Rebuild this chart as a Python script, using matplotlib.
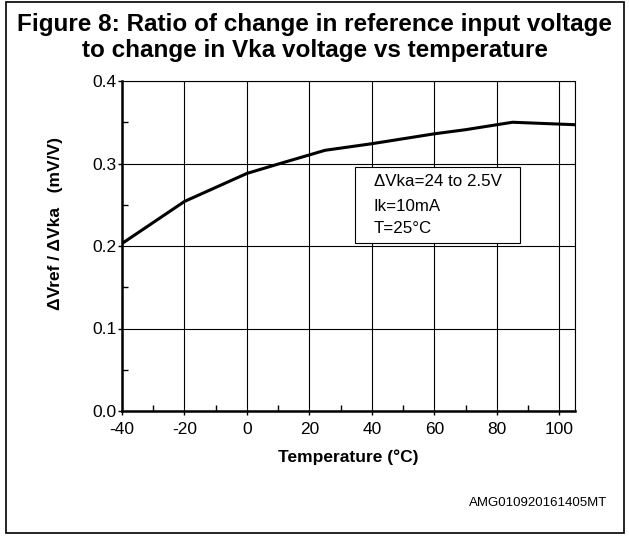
import matplotlib
matplotlib.use("Agg")
import matplotlib.pyplot as plt
from matplotlib.patches import Rectangle
from matplotlib.ticker import MultipleLocator

plt.rcParams['font.family'] = ['Liberation Sans', 'DejaVu Sans']

temperature = [-40, -20, 0, 10.6, 25, 40, 60, 70, 85, 105]
ratio = [0.203, 0.254, 0.288, 0.300, 0.316, 0.324, 0.336, 0.341, 0.350, 0.347]
xticks = [-40, -20, 0, 20, 40, 60, 80, 100]
yticks = [0.0, 0.1, 0.2, 0.3, 0.4]
note_lines = ["ΔVka=24 to 2.5V", "Ik=10mA", "T=25°C"]
note_y = [0.2776, 0.2473, 0.2218]

W, H = 629, 538
fig = plt.figure(figsize=(W / 100, H / 100), dpi=100)

# outer frame
fig.patches.append(Rectangle((6 / W, 5 / H), 618 / W, 531 / H, transform=fig.transFigure,
                             fill=False, edgecolor='black', linewidth=1.2))

fig.text(0.5, 1 - 31 / H, "Figure 8: Ratio of change in reference input voltage",
         ha='center', va='baseline', fontsize=17.5, fontweight='bold')
fig.text(0.5, 1 - 57 / H, "to change in Vka voltage vs temperature",
         ha='center', va='baseline', fontsize=17.5, fontweight='bold')

ax = fig.add_axes([122 / W, 1 - 411 / H, (575 - 122) / W, (411 - 81) / H])
ax.plot(temperature, ratio, color='black', linewidth=2.2, zorder=3)
ax.set_xlim(-40, 105)
ax.set_ylim(0.0, 0.4)
ax.set_xticks(xticks)
ax.set_yticks(yticks)
ax.set_xticklabels([str(t) for t in xticks])
ax.set_yticklabels([f"{v:.1f}" for v in yticks])
ax.xaxis.set_minor_locator(MultipleLocator(10))
ax.yaxis.set_minor_locator(MultipleLocator(0.05))
ax.tick_params(which='major', direction='out', length=3, width=1, labelsize=12.5, pad=1,
               colors='black')
ax.tick_params(axis='x', which='major', pad=5)
ax.tick_params(which='minor', direction='in', length=4, width=1)
ax.grid(True, which='major', color='black', linewidth=0.8)
ax.axvline(105, color='black', linewidth=0.8)
for s in ['left', 'bottom']:
    ax.spines[s].set_linewidth(1.8)
for s in ['top', 'right']:
    ax.spines[s].set_linewidth(0.8)

ax.set_xlabel("Temperature (°C)", fontsize=12.5, fontweight='bold', labelpad=9)
fig.text(56 / W, 1 - 224 / H, "ΔVref / ΔVka   (mV/V)", rotation=90, ha='center', va='center',
         fontsize=12.5, fontweight='bold')

# annotation box
ax.add_patch(Rectangle((34.6, 0.204), 52.8, 0.0914, facecolor='white', edgecolor='black',
                       linewidth=0.8, zorder=4))
for line, yy in zip(note_lines, note_y):
    ax.text(40.6, yy, line, fontsize=12.2, va='center', ha='left', zorder=5)

fig.text(607 / W, 1 - 503 / H, "AMG010920161405MT", ha='right', va='center', fontsize=9.5)

fig.savefig("out.png", dpi=100)
